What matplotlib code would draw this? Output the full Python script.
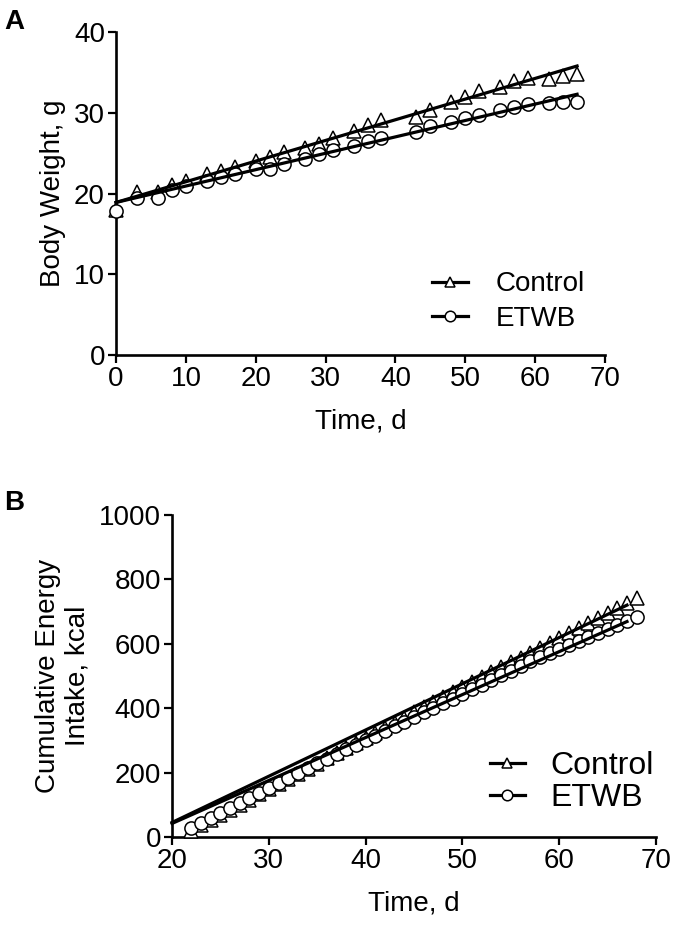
import matplotlib
matplotlib.use("Agg")
import matplotlib.pyplot as plt

plt.rcParams['font.family'] = ['Liberation Sans', 'DejaVu Sans']

# panel A: body weight
days_a = [0, 3, 6, 8, 10, 13, 15, 17, 20, 22, 24, 27, 29, 31, 34, 36, 38,
          43, 45, 48, 50, 52, 55, 57, 59, 62, 64, 66]
control_a = [18.0, 20.2, 20.2, 21.1, 21.5, 22.4, 22.8, 23.3, 24.0, 24.5, 25.1, 25.7,
             26.1, 26.9, 27.8, 28.5, 29.1, 29.5, 30.3, 31.3, 32.0, 32.7, 33.2, 33.9,
             34.3, 34.2, 34.6, 34.8]
etwb_a = [17.9, 19.5, 19.5, 20.4, 20.9, 21.6, 22.1, 22.4, 23.0, 23.0, 23.6, 24.3,
          24.9, 25.4, 25.9, 26.5, 26.9, 27.6, 28.4, 28.9, 29.4, 29.7, 30.4, 30.7,
          31.1, 31.2, 31.3, 31.3]
fit_x_a = [0, 66]
fit_control_a = [18.9, 35.8]
fit_etwb_a = [18.9, 32.3]

# panel B: cumulative energy intake
days_b = list(range(22, 69))
control_b = [20, 36, 52, 68, 84, 100, 116, 132, 148, 164, 180, 196, 212, 228, 244, 260,
             276, 292, 308, 324, 339, 355, 371, 387, 403, 419, 435, 451, 467, 482, 497,
             512, 527, 542, 557, 572, 587, 602, 617, 633, 649, 665, 680, 696, 711, 727, 742]
etwb_b = [28, 43, 59, 74, 90, 105, 121, 136, 152, 168, 183, 199, 214, 229, 243, 258,
          272, 286, 301, 315, 330, 344, 358, 373, 387, 402, 416, 430, 444, 459, 473,
          487, 502, 516, 530, 545, 558, 570, 583, 595, 608, 621, 633, 646, 659, 671, 684]
fit_x_b = [20, 67]
fit_control_b = [45, 720]
fit_etwb_b = [42, 669]

labels = ['Control', 'ETWB']
FS = 20


def style_axes(ax):
    for side in ['top', 'right']:
        ax.spines[side].set_visible(False)
    for side in ['left', 'bottom']:
        ax.spines[side].set_linewidth(1.9)
    ax.tick_params(direction='out', length=6, width=1.6, labelsize=FS, pad=2)


def draw_panel(ax, x, c, e, fx, fc, fe):
    mk = dict(ls='none', mfc='white', mec='black', mew=1.1, ms=9.5, clip_on=False, zorder=3)
    lc, = ax.plot(fx, fc, color='black', lw=2.3, zorder=4, clip_on=False)
    le, = ax.plot(fx, fe, color='black', lw=2.3, zorder=4, clip_on=False)
    mc, = ax.plot(x, c, marker='^', **mk)
    me, = ax.plot(x, e, marker='o', **mk)
    return [(lc, mc), (le, me)]


fig = plt.figure(figsize=(6.73, 9.38), dpi=100)

ax1 = fig.add_axes([0.1724, 0.6215, 0.7266, 0.3443])
handles = draw_panel(ax1, days_a, control_a, etwb_a, fit_x_a, fit_control_a, fit_etwb_a)
ax1.set_xlim(0, 70)
ax1.set_ylim(0, 40)
ax1.set_xticks(range(0, 71, 10))
ax1.set_yticks(range(0, 41, 10))
style_axes(ax1)
ax1.set_xlabel('Time, d', fontsize=FS, labelpad=12)
ax1.set_ylabel('Body Weight, g', fontsize=FS, labelpad=6)
ax1.legend(handles, labels, loc='lower right', bbox_to_anchor=(1.01, -0.005), frameon=False,
           fontsize=FS, handlelength=1.3, handletextpad=1.0, labelspacing=0.3,
           markerscale=0.8)
fig.text(0.006, 0.99, 'A', fontsize=20, fontweight='bold', va='top')

ax2 = fig.add_axes([0.2556, 0.1077, 0.7192, 0.3433])
handles = draw_panel(ax2, days_b, control_b, etwb_b, fit_x_b, fit_control_b, fit_etwb_b)
ax2.set_xlim(20, 70)
ax2.set_ylim(0, 1000)
ax2.set_xticks(range(20, 71, 10))
ax2.set_yticks(range(0, 1001, 200))
style_axes(ax2)
ax2.set_xlabel('Time, d', fontsize=FS, labelpad=12)
ax2.set_ylabel('Cumulative Energy\nIntake, kcal', fontsize=FS, labelpad=6)
ax2.legend(handles, labels, loc='lower right', bbox_to_anchor=(1.055, -0.015), frameon=False,
           fontsize=23, handlelength=1.1, handletextpad=0.8, labelspacing=0.05,
           markerscale=0.8)
fig.text(0.006, 0.478, 'B', fontsize=20, fontweight='bold', va='top')

fig.savefig('out.png', dpi=100)
